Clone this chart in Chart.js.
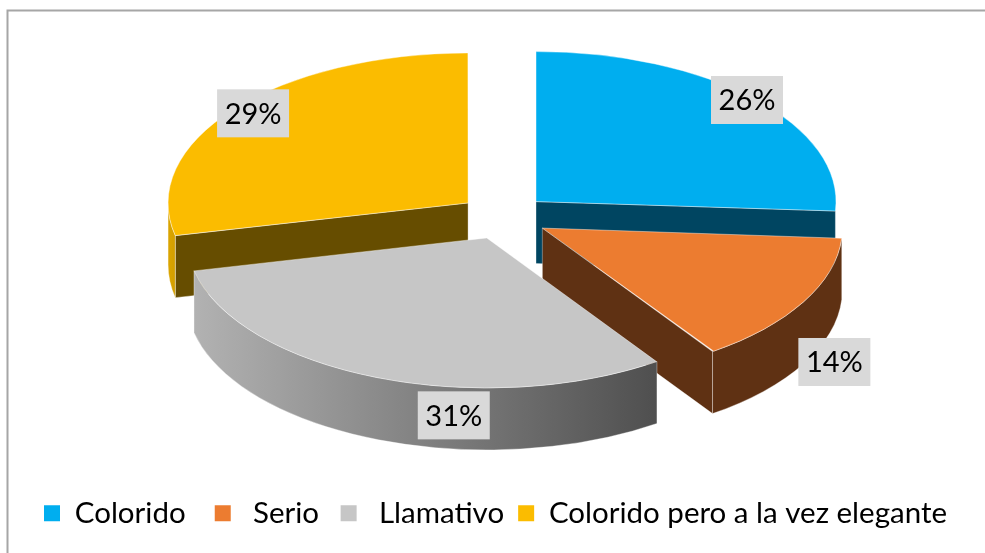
<!DOCTYPE html>
<html>
<head>
<meta charset="utf-8">
<style>html,body{margin:0;padding:0;background:#fff}#w{width:985px;height:553px;position:relative}</style>
<script src="https://cdn.jsdelivr.net/npm/chart.js@4"></script>
</head>
<body>
<div id="w"><canvas id="c" width="985" height="553"></canvas></div>
<script>
const categories = ['Colorido', 'Serio', 'Llamativo', 'Colorido pero a la vez elegante'];
const values = [26, 14.4, 31.1, 28.5];
const topColors = ['#00aeef', '#ec7c30', '#c6c6c6', '#fbbc00'];
const edgeWallColors = ['#004561', '#5f3113', '#6f6f6f', '#664d00'];
const rimWallColors = [['#004561', '#004561'], ['#5f3113', '#5f3113'], ['#b2b2b2', '#4f4f4f'], ['#dba500', '#d29e00']];
const legendLead = ['', ' ', ' ', ''];
const legendTrail = ['  ', ' ', '', ''];
const labelNudges = [[211, -102], [292, 133.5], [-33, 177], [-215, -90]];

const TILT = 0.5, DEPTH = 62, CX = 503.2, CY = 217, RADIUS = 300, EXPLODE = 180;

function geom(el) {
  const off = EXPLODE / 4;
  const mid = (el.startAngle + el.endAngle) / 2;
  return {
    x: CX + Math.cos(mid) * off,
    y: CY + Math.sin(mid) * off * TILT,
    r: RADIUS,
    a: el.startAngle,
    b: el.endAngle
  };
}

const pie3d = {
  id: 'pie3d',
  afterDatasetsUpdate(chart) {
    // ArcElement grows an offset slice by offset/4*(1-sin(circumference)); undo it so every slice shares one radius.
    chart.getDatasetMeta(0).data.forEach(el => {
      const circ = el.endAngle - el.startAngle;
      el.outerRadius = RADIUS - (EXPLODE / 4) * (1 - Math.sin(Math.min(Math.PI, circ)));
    });
  },
  beforeDraw(chart) {
    const ctx = chart.ctx;
    ctx.save();
    ctx.fillStyle = '#fff';
    ctx.fillRect(0, 0, chart.width, chart.height);
    ctx.strokeStyle = '#a6a6a6';
    ctx.lineWidth = 2;
    ctx.strokeRect(7.5, 10.5, chart.width + 20, chart.height + 20);
    ctx.restore();
  },
  beforeDatasetsDraw(chart) {
    const ctx = chart.ctx;
    const arcs = chart.getDatasetMeta(0).data;
    const order = [3, 0, 1, 2];
    ctx.save();
    ctx.lineWidth = 1;
    ctx.strokeStyle = 'rgba(255,255,255,0.35)';
    order.forEach(i => {
      const g = geom(arcs[i]);
      const ends = [[g.a, Math.cos(g.a) < -1e-6], [g.b, Math.cos(g.b) > 1e-6]];
      ends.forEach(([ang, visible]) => {
        if (!visible) return;
        const px = g.x + Math.cos(ang) * g.r, py = g.y + Math.sin(ang) * g.r * TILT;
        ctx.beginPath();
        ctx.moveTo(g.x, g.y);
        ctx.lineTo(px, py);
        ctx.lineTo(px, py + DEPTH);
        ctx.lineTo(g.x, g.y + DEPTH);
        ctx.closePath();
        ctx.fillStyle = edgeWallColors[i];
        ctx.fill();
        ctx.stroke();
      });
      // outer rim: only the part of the arc on the near half of the ellipse
      const twoPi = Math.PI * 2;
      let a = g.a, b = g.b;
      while (a < -1e-9) { a += twoPi; b += twoPi; }
      const from = Math.max(a, 0), to = Math.min(b, Math.PI);
      if (to > from) {
        ctx.beginPath();
        ctx.ellipse(g.x, g.y, g.r, g.r * TILT, 0, from, to);
        ctx.ellipse(g.x, g.y + DEPTH, g.r, g.r * TILT, 0, to, from, true);
        ctx.closePath();
        const x0 = g.x + Math.cos(to) * g.r, x1 = g.x + Math.cos(from) * g.r;
        const grad = ctx.createLinearGradient(x0, 0, x1, 0);
        grad.addColorStop(0, rimWallColors[i][0]);
        grad.addColorStop(1, rimWallColors[i][1]);
        ctx.fillStyle = grad;
        ctx.fill();
        ctx.stroke();
      }
    });
    ctx.restore();
    const el = arcs[0];
    ctx.save();
    ctx.translate(CX, CY);
    ctx.scale(1, TILT);
    ctx.translate(-el.x, -el.y);
  },
  afterDatasetsDraw(chart) {
    const ctx = chart.ctx;
    ctx.restore();
    const arcs = chart.getDatasetMeta(0).data;
    ctx.save();
    ctx.font = '29px Lato';
    ctx.textAlign = 'center';
    ctx.textBaseline = 'middle';
    arcs.forEach((el, i) => {
      const g = geom(el);
      const lx = g.x + labelNudges[i][0], ly = g.y + labelNudges[i][1] + 0.4;
      ctx.fillStyle = '#d9d9d9';
      ctx.fillRect(lx - 36, ly - 24, 72, 48);
      ctx.fillStyle = '#000';
      ctx.fillText(Math.round(values[i]) + '%', lx, ly + 1);
    });
    ctx.restore();
  }
};

new Chart(document.getElementById('c'), {
  type: 'pie',
  plugins: [pie3d],
  data: {
    labels: categories,
    datasets: [{
      data: values,
      backgroundColor: topColors,
      borderColor: 'rgba(255,255,255,0.55)',
      borderWidth: 1,
      offset: EXPLODE,
      radius: RADIUS,
      clip: false
    }]
  },
  options: {
    responsive: false,
    animation: false,
    devicePixelRatio: 1,
    rotation: 0,
    layout: { padding: { left: 30, right: 0, top: 0, bottom: 15 } },
    plugins: {
      tooltip: { enabled: false },
      legend: {
        position: 'bottom',
        align: 'start',
        labels: {
          boxWidth: 16,
          boxHeight: 16,
          padding: 14,
          color: '#000',
          font: { family: 'Lato', size: 29.5 },
          generateLabels: () => categories.map((c, i) => ({
            text: legendLead[i] + c + legendTrail[i],
            fillStyle: topColors[i],
            strokeStyle: topColors[i],
            lineWidth: 0,
            index: i
          }))
        }
      }
    }
  }
});
</script>
</body>
</html>
